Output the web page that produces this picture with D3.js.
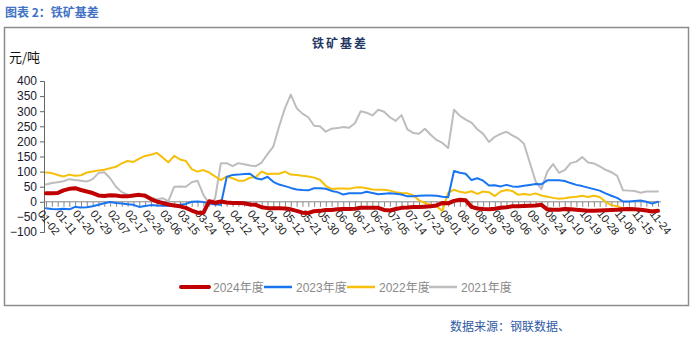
<!DOCTYPE html>
<html><head><meta charset="utf-8">
<script src="https://cdn.jsdelivr.net/npm/d3@7"></script>
<style>
body{margin:0;background:#fff;}
svg{display:block;font-family:Arial,"Liberation Sans","Noto Sans CJK SC",sans-serif;}
</style>
</head><body>
<svg id="c" width="695" height="340"></svg>
<script>
// ---- data ----
const dateLabels = ["01-02","01-11","01-20","01-29","02-07","02-17","02-26","03-06","03-15","03-24",
  "04-02","04-12","04-21","04-30","05-12","05-21","05-30","06-08","06-17","06-26",
  "07-05","07-14","07-23","08-01","08-10","08-19","08-28","09-06","09-15","09-24",
  "10-10","10-19","10-28","11-06","11-15","11-24"];
const yTickValues = [-100,-50,0,50,100,150,200,250,300,350,400];
const seriesNames = ["2024年度","2023年度","2022年度","2021年度"];
const seriesColors = ["#C00000","#1874F0","#F5BF0A","#BDBDBD"];

const basis2024 = [28,28,29,38,43,45,39,34,29,21,
  19,22,21,18,18,21,23,20,9,1,
  -4,-9,-12,-15,-20,-29,-36,-37,2,-3,
  1,-2,-4,-4,-5,-9,-10,-18,-21,-21,
  -21,-22,-25,-30,-36,-37,-31,-30,-27,-27,
  -25,-24,-24,-23,-20,-20,-20,-20,-27,-29,
  -24,-20,-19,-17,-17,-16,-15,-12,-4,-5,
  3,7,5,-17,-22,-24,-25,-23,-20,-18,
  -15,-15,-14,-13,-12,-10,-25,-26,-26,-24,
  -25,-26,-28,-30,-30,-29,-28,-27,-26,-25,
  -24,-25,-26,-29,-32,-30];
const basis2023 = [-21,-24,-25,-23,-25,-17,-19,-18,-15,-10,
  -5,-1,-4,-6,-8,-10,-17,-14,-11,-12,
  -13,-12,-13,-10,-7,0,1,-1,-6,-9,
  -10,82,89,90,92,93,78,74,83,66,
  57,52,46,41,39,38,45,45,43,36,
  32,24,28,28,28,33,29,25,27,28,
  27,24,18,18,20,21,21,20,17,15,
  102,96,93,72,78,70,54,55,51,56,
  51,50,53,56,59,58,71,71,71,69,
  62,56,52,47,42,37,28,20,13,1,
  1,3,4,0,-6,0];
const basis2022 = [97,95,89,84,90,86,88,97,100,104,
  106,111,116,127,135,132,143,152,156,162,
  147,131,152,140,135,108,100,105,97,84,
  72,84,78,70,70,80,82,100,92,93,
  93,100,90,89,86,84,80,73,53,42,
  44,44,43,47,48,45,41,40,40,37,
  32,29,28,22,5,-4,-10,-15,-30,30,
  40,33,30,35,26,34,32,19,34,39,
  36,23,26,23,28,21,17,13,10,12,
  15,17,20,16,20,16,0,-11,-15,-21,
  -21,-23,-25,-27,-28,-29];
const basis2021 = [57,62,65,68,75,72,70,67,75,95,
  98,78,50,32,24,20,18,25,14,8,
  12,2,50,51,50,65,70,23,-6,10,
  128,128,118,128,124,120,118,130,158,183,
  250,310,355,310,292,280,252,250,232,242,
  244,248,245,260,300,295,286,305,298,280,
  268,287,240,228,225,242,222,205,195,178,
  305,285,272,262,240,225,198,215,225,232,
  220,210,192,130,68,42,100,125,96,105,
  128,133,148,130,127,117,106,98,86,38,
  37,36,30,34,34,34];

const sampleStep = 3;   // index units between data points
const labelEvery = 9;   // index units between date labels

// ---- drawing ----
const svg = d3.select("#c");
const lastIdx = (dateLabels.length - 1) * labelEvery;
const x = d3.scaleLinear().domain([0, lastIdx]).range([46, 658]);
const y = d3.scaleLinear().domain([-100, 400]).range([232, 81]);

// frame
svg.append("rect").attr("x",4.5).attr("y",27.5).attr("width",684).attr("height",278)
  .attr("fill","none").attr("stroke","#8c8c8c").attr("stroke-width",1.5);

// headings
svg.append("text").attr("x",5).attr("y",17).text("图表 2：铁矿基差")
  .attr("font-size",12).attr("font-weight","bold").attr("fill","#4272c4")
  .attr("font-family","'Noto Sans CJK SC',sans-serif");
svg.append("text").attr("x",340).attr("y",48).attr("text-anchor","middle").text("铁矿基差")
  .attr("font-size",12).attr("font-weight","bold").attr("fill","#1f3864").attr("letter-spacing",2)
  .attr("font-family","'Noto Sans CJK SC',sans-serif");
svg.append("text").attr("x",9).attr("y",62).text("元/吨")
  .attr("font-size",13).attr("fill","#111")
  .attr("font-family","'Noto Sans CJK SC',sans-serif");

// y axis
const yAxis = svg.append("g").attr("transform","translate(44,0)")
  .call(d3.axisLeft(y).tickValues(yTickValues).tickSize(4).tickPadding(3));
yAxis.select(".domain").attr("stroke","#666");
yAxis.selectAll(".tick line").attr("stroke","#666");
yAxis.selectAll(".tick text").attr("font-size",12).attr("fill","#1a1a2e").attr("font-family","Arial,'Liberation Sans',sans-serif");

// x axis at zero
const tickIdx = d3.range(0, lastIdx + 1, sampleStep);
const xAxis = svg.append("g").attr("transform",`translate(0,${y(0)})`)
  .call(d3.axisBottom(x).tickValues(tickIdx).tickSize(5)
    .tickFormat(d => d % labelEvery === 0 ? dateLabels[d / labelEvery] : ""));
xAxis.select(".domain").attr("stroke","#888").attr("d",`M44,0H${x(lastIdx)+3}`);
xAxis.selectAll(".tick line").attr("stroke","#888");
xAxis.selectAll(".tick text")
  .attr("font-size",11).attr("fill","#222").attr("font-family","Arial,'Liberation Sans',sans-serif")
  .attr("text-anchor","start").attr("dy",null).attr("y",0).attr("x",0)
  .attr("transform","translate(-3,7) rotate(52)")
  .attr("dominant-baseline","hanging");

// lines
const line = d3.line().x((d,i) => x(i * sampleStep)).y(d => y(d));
const allSeries = [basis2024, basis2023, basis2022, basis2021];
const widths = [4, 2, 2, 2];
[3,2,1,0].forEach(s => {
  svg.append("path").datum(allSeries[s]).attr("d", line)
    .attr("fill","none").attr("stroke", seriesColors[s]).attr("stroke-width", widths[s])
    .attr("stroke-linejoin","round").attr("stroke-linecap","round");
});

// legend
const legX = [181, 264, 347, 429];
seriesNames.forEach((n, i) => {
  const g = svg.append("g").attr("transform", `translate(${legX[i]},287)`);
  g.append("line").attr("x1",0).attr("x2",28).attr("y1",0).attr("y2",0)
    .attr("stroke", seriesColors[i]).attr("stroke-width", widths[i] === 4 ? 4 : 2.5)
    .attr("stroke-linecap", i === 0 ? "round" : "butt");
  g.append("text").attr("x",32).attr("y",4.5).text(n).attr("font-size",12).attr("fill","#8a8a8a")
    .attr("font-family","Arial,'Noto Sans CJK SC',sans-serif");
});

// source
svg.append("text").attr("x",450).attr("y",331).text("数据来源：钢联数据、")
  .attr("font-size",12).attr("fill","#2f5aa5")
  .attr("font-family","'Noto Sans CJK SC',sans-serif");
</script>
</body></html>
